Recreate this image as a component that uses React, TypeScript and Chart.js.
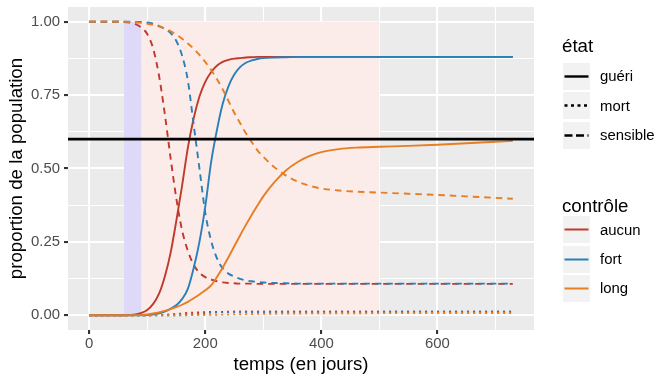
import React, { useEffect, useRef } from "react";
import { Chart, registerables } from "chart.js";

Chart.register(...registerables);

// ---------- data ----------
const days = [0, 20, 40, 60, 70, 80, 90, 100, 110, 120, 130, 140, 150, 160, 170, 180, 190, 200, 210, 220, 230, 240, 250, 260, 270, 280, 290, 300, 320, 340, 360, 380, 400, 430, 460, 500, 550, 600, 650, 700, 730];

const aucunGueri = [0, 0, 0, 0, 0.001, 0.003, 0.008, 0.018, 0.038, 0.072, 0.13, 0.21, 0.32, 0.44, 0.57, 0.67, 0.745, 0.795, 0.828, 0.85, 0.863, 0.87, 0.874, 0.876, 0.878, 0.879, 0.88, 0.88, 0.88, 0.88, 0.88, 0.88, 0.88, 0.88, 0.88, 0.88, 0.88, 0.88, 0.88, 0.88, 0.88];
const aucunMort = [0, 0, 0, 0, 0, 0, 0, 0, 0.0005, 0.001, 0.002, 0.003, 0.005, 0.006, 0.008, 0.009, 0.01, 0.011, 0.0113, 0.0115, 0.0118, 0.012, 0.012, 0.012, 0.012, 0.012, 0.012, 0.012, 0.012, 0.012, 0.012, 0.012, 0.012, 0.012, 0.012, 0.012, 0.012, 0.012, 0.012, 0.012, 0.012];
const aucunSensible = [1, 1, 1, 0.999, 0.997, 0.992, 0.98, 0.958, 0.91, 0.82, 0.69, 0.54, 0.4, 0.29, 0.22, 0.172, 0.145, 0.13, 0.122, 0.116, 0.112, 0.11, 0.109, 0.108, 0.108, 0.108, 0.107, 0.107, 0.107, 0.107, 0.107, 0.107, 0.107, 0.107, 0.107, 0.107, 0.107, 0.107, 0.107, 0.107, 0.107];

const fortGueri = [0, 0, 0, 0, 0, 0, 0, 0.001, 0.003, 0.007, 0.013, 0.022, 0.034, 0.055, 0.09, 0.16, 0.25, 0.37, 0.52, 0.63, 0.72, 0.78, 0.82, 0.845, 0.86, 0.868, 0.873, 0.876, 0.878, 0.879, 0.88, 0.88, 0.88, 0.88, 0.88, 0.88, 0.88, 0.88, 0.88, 0.88, 0.88];
const fortMort = [0, 0, 0, 0, 0, 0, 0, 0, 0, 0, 0, 0, 0, 0.001, 0.002, 0.003, 0.005, 0.007, 0.009, 0.01, 0.011, 0.0115, 0.012, 0.012, 0.012, 0.012, 0.012, 0.012, 0.012, 0.012, 0.012, 0.012, 0.012, 0.012, 0.012, 0.012, 0.012, 0.012, 0.012, 0.012, 0.012];
const fortSensible = [1, 1, 1, 1, 1, 0.999, 0.999, 0.997, 0.993, 0.986, 0.976, 0.962, 0.935, 0.885, 0.8, 0.65, 0.5, 0.35, 0.255, 0.195, 0.16, 0.142, 0.132, 0.124, 0.119, 0.116, 0.114, 0.112, 0.11, 0.109, 0.108, 0.108, 0.108, 0.108, 0.108, 0.108, 0.108, 0.108, 0.108, 0.108, 0.108];

const longGueri = [0, 0, 0, 0, 0, 0.0005, 0.001, 0.003, 0.006, 0.01, 0.015, 0.021, 0.028, 0.036, 0.046, 0.058, 0.071, 0.085, 0.102, 0.13, 0.162, 0.198, 0.235, 0.272, 0.308, 0.342, 0.374, 0.405, 0.455, 0.495, 0.523, 0.543, 0.556, 0.566, 0.571, 0.574, 0.577, 0.581, 0.586, 0.591, 0.594];
const longMort = [0, 0, 0, 0, 0, 0, 0, 0, 0, 0, 0, 0, 0, 0.0003, 0.0005, 0.0008, 0.001, 0.0013, 0.0017, 0.002, 0.0025, 0.003, 0.0033, 0.0037, 0.004, 0.0045, 0.0048, 0.005, 0.0055, 0.006, 0.0063, 0.0066, 0.0068, 0.007, 0.0072, 0.0074, 0.0076, 0.0078, 0.0079, 0.008, 0.008];
const longSensible = [1, 1, 1, 1, 0.999, 0.998, 0.996, 0.993, 0.989, 0.984, 0.977, 0.968, 0.956, 0.942, 0.926, 0.908, 0.887, 0.863, 0.836, 0.805, 0.77, 0.73, 0.69, 0.655, 0.62, 0.59, 0.562, 0.54, 0.503, 0.475, 0.455, 0.441, 0.432, 0.425, 0.421, 0.418, 0.414, 0.41, 0.405, 0.4, 0.397];

const controles = ["aucun", "fort", "long"];
const etats = ["guéri", "mort", "sensible"];

// shaded periods (days) and horizontal threshold
const periodStart = [60, 90];
const periodEnd = [90, 500];
const seuil = 0.6;

const xTicks = [0, 100, 200, 300, 400, 500, 600, 700];
const xMajor = [0, 200, 400, 600];
const yTicks = [0, 0.125, 0.25, 0.375, 0.5, 0.625, 0.75, 0.875, 1];
const yMajor = [0, 0.25, 0.5, 0.75, 1];

// ---------- styles ----------
const FONT = "'Liberation Sans', Arial, Helvetica, sans-serif";
const controleColors = ["#C0392B", "#2980B9", "#E67E22"];
const etatDash: number[][] = [[], [2, 4], [6.5, 5]];
const etatKeyDash: number[][] = [[], [3, 3.5], [8, 3.5]];
const periodColors = ["#DED9F8", "#FBECEA"];

const seriesTable: number[][][] = [
  [aucunGueri, aucunMort, aucunSensible],
  [fortGueri, fortMort, fortSensible],
  [longGueri, longMort, longSensible],
];

const isMajor = (v: number, majors: number[]) => majors.some((m) => Math.abs(m - v) < 1e-9);

const panelPlugin = {
  id: "panelPlugin",
  beforeDraw(chart: any) {
    const { ctx, chartArea: a } = chart;
    ctx.save();
    ctx.fillStyle = "#EBEBEB";
    ctx.fillRect(a.left, a.top, a.right - a.left, a.bottom - a.top);
    ctx.restore();
  },
  beforeDatasetsDraw(chart: any) {
    const { ctx, scales } = chart;
    const xs = scales.x;
    const ys = scales.y;
    ctx.save();
    for (let i = 0; i < periodStart.length; i++) {
      const x0 = xs.getPixelForValue(periodStart[i]);
      const x1 = xs.getPixelForValue(periodEnd[i]);
      const y0 = ys.getPixelForValue(1);
      const y1 = ys.getPixelForValue(0);
      ctx.fillStyle = periodColors[i];
      ctx.fillRect(x0, y0, x1 - x0, y1 - y0);
    }
    ctx.restore();
  },
  afterDatasetsDraw(chart: any) {
    const { ctx, chartArea: a, scales } = chart;
    const y = scales.y.getPixelForValue(seuil);
    ctx.save();
    ctx.strokeStyle = "#000";
    ctx.lineWidth = 2.8;
    ctx.beginPath();
    ctx.moveTo(a.left, y);
    ctx.lineTo(a.right, y);
    ctx.stroke();
    ctx.restore();
  },
};

function KeyBox({ color, dash, width }: { color: string; dash: number[]; width: number }) {
  return (
    <svg width={27} height={27} style={{ display: "block", background: "#F2F2F2" }}>
      <line x1={1.5} x2={25.5} y1={13.5} y2={13.5} stroke={color} strokeWidth={width} strokeDasharray={dash.length ? dash.join(" ") : undefined} />
    </svg>
  );
}

function Legend() {
  const etatTops = [62.7, 92.2, 121.6];
  const ctrlTops = [216.3, 245.5, 274.5];
  return (
    <>
      <div style={{ position: "absolute", left: 562, top: 37, fontFamily: FONT, fontSize: 18.7, lineHeight: 1, color: "#000", whiteSpace: "nowrap" }}>état</div>
      {etats.map((e, i) => (
        <div key={e} style={{ position: "absolute", left: 563, top: etatTops[i], height: 27, display: "flex", alignItems: "center" }}>
          <KeyBox color="#000" dash={etatKeyDash[i]} width={2.4} />
          <span style={{ marginLeft: 10, fontFamily: FONT, fontSize: 14.9, color: "#000", whiteSpace: "nowrap" }}>{e}</span>
        </div>
      ))}
      <div style={{ position: "absolute", left: 562, top: 197, fontFamily: FONT, fontSize: 18.7, lineHeight: 1, color: "#000", whiteSpace: "nowrap" }}>contrôle</div>
      {controles.map((c, i) => (
        <div key={c} style={{ position: "absolute", left: 563, top: ctrlTops[i], height: 27, display: "flex", alignItems: "center" }}>
          <KeyBox color={controleColors[i]} dash={[]} width={2} />
          <span style={{ marginLeft: 10, fontFamily: FONT, fontSize: 14.9, color: "#000", whiteSpace: "nowrap" }}>{c}</span>
        </div>
      ))}
    </>
  );
}

export default function App() {
  const canvasRef = useRef<HTMLCanvasElement | null>(null);

  useEffect(() => {
    const canvas = canvasRef.current;
    if (!canvas) return;
    const datasets: any[] = [];
    // index 0 is drawn on top in Chart.js: put "long" first
    for (let c = controles.length - 1; c >= 0; c--) {
      for (let e = etats.length - 1; e >= 0; e--) {
        const vals = seriesTable[c][e];
        datasets.push({
          label: `${controles[c]} - ${etats[e]}`,
          data: days.map((d, i) => ({ x: d, y: vals[i] })),
          borderColor: controleColors[c],
          backgroundColor: controleColors[c],
          borderWidth: 1.9,
          borderDash: etatDash[e],
          pointRadius: 0,
          fill: false,
          cubicInterpolationMode: "monotone",
        });
      }
    }

    const chart = new Chart(canvas, {
      type: "line",
      data: { datasets },
      plugins: [panelPlugin],
      options: {
        animation: false,
        responsive: false,
        maintainAspectRatio: false,
        devicePixelRatio: 1,
        layout: { padding: { top: 7, right: 127, bottom: 0, left: 0 } },
        plugins: { legend: { display: false }, tooltip: { enabled: false } },
        scales: {
          x: {
            type: "linear",
            min: -36.5,
            max: 766.5,
            afterBuildTicks: (s: any) => {
              s.ticks = xTicks.map((v) => ({ value: v }));
            },
            afterFit: (s: any) => {
              s.height = 49;
              s.paddingLeft = 0;
              s.paddingRight = 0;
            },
            border: { display: false },
            grid: {
              color: "#FFFFFF",
              lineWidth: (ctx: any) => (ctx.tick && isMajor(ctx.tick.value, xMajor) ? 2.1 : 1.05),
              tickLength: 4,
              tickWidth: 2.1,
              tickColor: (ctx: any) => (ctx.tick && isMajor(ctx.tick.value, xMajor) ? "#333333" : "rgba(0,0,0,0)"),
            },
            ticks: {
              autoSkip: false,
              maxRotation: 0,
              padding: 1,
              color: "#4D4D4D",
              font: { family: FONT, size: 14.9 },
              callback: (v: any) => (isMajor(Number(v), xMajor) ? String(Math.round(Number(v))) : ""),
            },
            title: {
              display: true,
              text: "temps (en jours)",
              color: "#000000",
              font: { family: FONT, size: 18.7 },
              padding: { top: 0, bottom: 2.5 },
            },
          },
          y: {
            type: "linear",
            min: -0.05,
            max: 1.05,
            afterBuildTicks: (s: any) => {
              s.ticks = yTicks.map((v) => ({ value: v }));
            },
            afterFit: (s: any) => {
              s.width = 68;
              s.paddingTop = 0;
              s.paddingBottom = 0;
            },
            border: { display: false },
            grid: {
              color: "#FFFFFF",
              lineWidth: (ctx: any) => (ctx.tick && isMajor(ctx.tick.value, yMajor) ? 2.1 : 1.05),
              tickLength: 4,
              tickWidth: 2.1,
              tickColor: (ctx: any) => (ctx.tick && isMajor(ctx.tick.value, yMajor) ? "#333333" : "rgba(0,0,0,0)"),
            },
            ticks: {
              autoSkip: false,
              padding: 4,
              color: "#4D4D4D",
              font: { family: FONT, size: 14.9 },
              callback: (v: any) => (isMajor(Number(v), yMajor) ? Number(v).toFixed(2) : ""),
            },
            title: {
              display: true,
              text: "proportion de la population",
              color: "#000000",
              font: { family: FONT, size: 18.7 },
              padding: { top: 6, bottom: 0 },
            },
          },
        },
      },
    } as any);

    return () => {
      chart.destroy();
    };
  }, []);

  return (
    <div style={{ position: "fixed", left: 0, top: 0, width: 661, height: 379, background: "#FFFFFF" }}>
      <canvas ref={canvasRef} width={661} height={379} style={{ position: "absolute", left: 0, top: 0, width: 661, height: 379 }} />
      <Legend />
    </div>
  );
}
